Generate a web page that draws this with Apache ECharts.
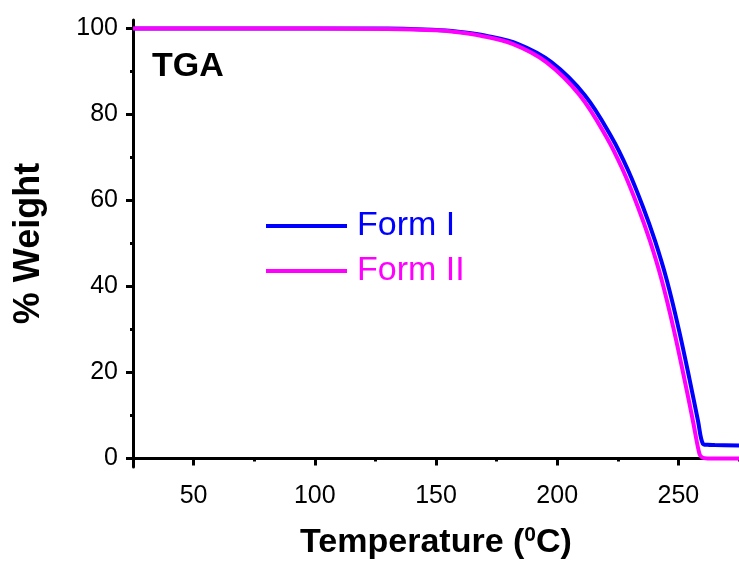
<!DOCTYPE html>
<html>
<head>
<meta charset="utf-8">
<script src="https://cdn.jsdelivr.net/npm/echarts@6/dist/echarts.min.js"></script>
<style>
html,body{margin:0;padding:0;background:#fff;}
#chart{width:739px;height:568px;}
</style>
</head>
<body>
<div id="chart"></div>
<script>
// Form I (blue)
var formITemp   = [25, 60, 100, 130, 152, 162, 170.1, 183.9, 197.6, 211.4, 222.4, 229.2, 235.4, 240.3, 245.2, 250.1, 254.6, 258.1, 260.1, 262, 265, 275];
var formIWeight = [100, 100, 100, 100, 99.6, 99.1, 98.4, 96.4, 92.2, 84.5, 74.8, 67.1, 58.5, 50.7, 41.5, 30.2, 18.4, 8.7, 3.4, 3.15, 3.1, 3.0];
// Form II (magenta)
var formIITemp   = [25, 60, 100, 130, 150, 160, 168, 181.8, 195.5, 209.3, 220.3, 227.1, 233.3, 238.2, 243.1, 248, 252.5, 256, 258.7, 259.8, 262, 275];
var formIIWeight = [100, 100, 100, 99.9, 99.6, 99.1, 98.4, 96.4, 92.2, 84.5, 74.8, 67.1, 58.5, 50.7, 41.5, 30.2, 18.4, 8.7, 1.0, 0.2, 0.0, 0.0];

var xMajorTicks = [50, 100, 150, 200, 250];
var xMinorTicks = [75, 125, 175, 225, 275];
var yMajorTicks = [0, 20, 40, 60, 80, 100];
var yMinorTicks = [10, 30, 50, 70, 90];

var seriesNames = ['Form I', 'Form II'];
var seriesColors = ['#0000ff', '#ff00ff'];

function pairs(t, w) { return t.map(function (v, i) { return [v, w[i]]; }); }

var font = '"Liberation Sans", Arial, sans-serif';
var chart = echarts.init(document.getElementById('chart'));
chart.setOption({
  animation: false,
  backgroundColor: '#fff',
  textStyle: { fontFamily: font },
  grid: { left: 133, right: 0, top: 20, bottom: 101, containLabel: false },
  legend: {
    left: 266, top: 209, orient: 'vertical', padding: 0,
    itemWidth: 81, itemHeight: 4, itemGap: 11,
    icon: 'rect',
    data: [
      { name: seriesNames[0], textStyle: { color: seriesColors[0] } },
      { name: seriesNames[1], textStyle: { color: seriesColors[1] } }
    ],
    textStyle: { fontSize: 34, fontFamily: font, padding: [0, 0, 0, 5] }
  },
  graphic: [{
    type: 'text', left: 152, top: 50,
    style: { text: 'TGA', font: 'bold 34px ' + font, fill: '#000' }
  }],
  xAxis: [{
    type: 'value', min: 25, max: 275, position: 'bottom',
    name: 'Temperature ({sup|0}C)', nameLocation: 'middle', nameGap: 58,
    nameTextStyle: {
      fontSize: 34, fontWeight: 'bold', color: '#000', fontFamily: font,
      rich: { sup: { fontSize: 21, fontWeight: 'bold', color: '#000', fontFamily: font, padding: [0, 0, 15, 0] } }
    },
    axisLine: { show: true, lineStyle: { color: '#000', width: 3 } },
    axisTick: { show: true, inside: false, length: 7, lineStyle: { color: '#000', width: 3 }, customValues: xMajorTicks },
    axisLabel: { show: true, fontSize: 25, color: '#000', margin: 17, fontFamily: font, customValues: xMajorTicks },
    splitLine: { show: false }
  }, {
    type: 'value', min: 25, max: 275, position: 'bottom', offset: 0,
    axisLine: { show: false },
    axisTick: { show: true, inside: false, length: 3, lineStyle: { color: '#000', width: 3 }, customValues: xMinorTicks },
    axisLabel: { show: false },
    splitLine: { show: false }
  }],
  yAxis: [{
    type: 'value', min: -2, max: 102, position: 'left',
    name: '% Weight', nameLocation: 'middle', nameGap: 86, nameRotate: 90,
    nameTextStyle: { fontSize: 36, fontWeight: 'bold', color: '#000', fontFamily: font },
    axisLine: { show: true, lineStyle: { color: '#000', width: 3 } },
    axisTick: { show: true, inside: false, length: 7, lineStyle: { color: '#000', width: 3 }, customValues: yMajorTicks },
    axisLabel: { show: true, fontSize: 25, color: '#000', margin: 15, fontFamily: font, customValues: yMajorTicks },
    splitLine: { show: false }
  }, {
    type: 'value', min: -2, max: 102, position: 'left', offset: 0,
    axisLine: { show: false },
    axisTick: { show: true, inside: false, length: 3, lineStyle: { color: '#000', width: 3 }, customValues: yMinorTicks },
    axisLabel: { show: false },
    splitLine: { show: false }
  }],
  series: [{
    name: seriesNames[0], type: 'line', xAxisIndex: 0, yAxisIndex: 0,
    data: pairs(formITemp, formIWeight), smooth: 0.35, symbol: 'none',
    lineStyle: { color: seriesColors[0], width: 4 }, itemStyle: { color: seriesColors[0] }
  }, {
    name: seriesNames[1], type: 'line', xAxisIndex: 0, yAxisIndex: 0,
    data: pairs(formIITemp, formIIWeight), smooth: 0.35, symbol: 'none',
    lineStyle: { color: seriesColors[1], width: 4 }, itemStyle: { color: seriesColors[1] }
  }]
});
</script>
</body>
</html>
